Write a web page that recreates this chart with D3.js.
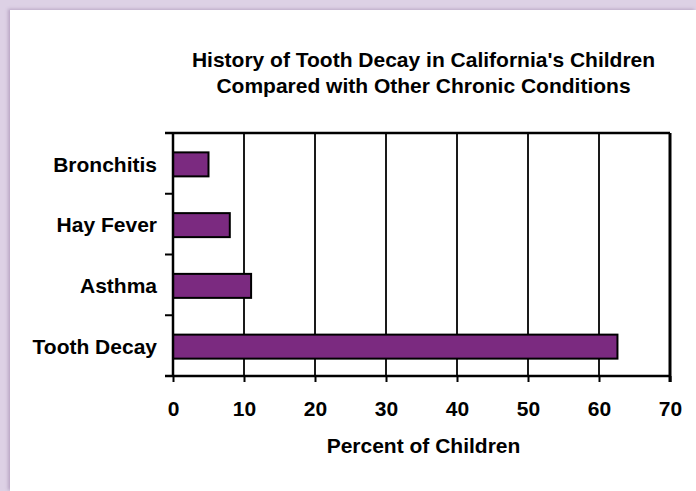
<!DOCTYPE html>
<html>
<head>
<meta charset="utf-8">
<script src="https://cdn.jsdelivr.net/npm/d3@7"></script>
<style>
body { margin: 0; background: #ddd1e5; }
#chart { position: absolute; left: 10px; top: 10px; width: 686px; height: 481px; background: #fff; box-shadow: -2px -1px 3px rgba(120,90,140,0.35); }
</style>
</head>
<body>
<div id="chart"></div>
<script>
// data
var categories = ["Bronchitis", "Hay Fever", "Asthma", "Tooth Decay"];
var values = [5, 8, 11, 62.6];
var xTicks = [0, 10, 20, 30, 40, 50, 60, 70];
var titleLines = ["History of Tooth Decay in California's Children", "Compared with Other Chronic Conditions"];
var xTitle = "Percent of Children";

var font = "'Liberation Sans', Arial, sans-serif";
var fs = "21px";

// dimensions (page coords minus the 10px frame offset)
var margin = {top: 123, right: 26, bottom: 115, left: 163},
width = 686 - margin.left - margin.right,
height = 481 - margin.top - margin.bottom;

var svg = d3.select("#chart")
.append("svg")
.attr("width", 686)
.attr("height", 481);

var g = svg.append("g")
.attr("transform", "translate(" + margin.left + "," + margin.top + ")");

var x = d3.scaleLinear()
.domain([0, 70])
.range([0, width]);

var y = d3.scaleBand()
.domain(categories)
.range([0, height]);

// vertical gridlines
g.append("g")
.selectAll("line")
.data(xTicks.slice(1, -1))
.enter()
.append("line")
.attr("x1", function (d) { return x(d); })
.attr("x2", function (d) { return x(d); })
.attr("y1", 0)
.attr("y2", height)
.attr("stroke", "#1a1a1a")
.attr("stroke-width", 2);

// plot border top + right
g.append("line")
.attr("x1", -8).attr("x2", width)
.attr("y1", 0).attr("y2", 0)
.attr("stroke", "#000").attr("stroke-width", 2.5);
g.append("line")
.attr("x1", width).attr("x2", width)
.attr("y1", 0).attr("y2", height + 6)
.attr("stroke", "#000").attr("stroke-width", 3);

// bars
var barH = 24;
g.append("g")
.selectAll("rect")
.data(categories)
.enter()
.append("rect")
.attr("x", x(0))
.attr("y", function (d) { return y(d) + y.bandwidth() / 2 - barH / 2 + 1; })
.attr("width", function (d, i) { return x(values[i]) - x(0); })
.attr("height", barH)
.attr("fill", "#7b2a80")
.attr("stroke", "#000")
.attr("stroke-width", 2);

// x axis
var xAxis = g.append("g")
.attr("transform", "translate(0," + height + ")")
.call(d3.axisBottom(x).tickValues(xTicks).tickSize(6).tickPadding(19));
xAxis.select(".domain").attr("d", "M-8,0H" + width).attr("stroke-width", 2.5);
xAxis.selectAll(".tick line").attr("stroke-width", 2);
xAxis.selectAll("text")
.style("font-family", font)
.style("font-size", fs)
.style("font-weight", "bold")
.attr("fill", "#000");

// y axis: ticks between categories
var yAxis = g.append("g");
yAxis.append("line")
.attr("x1", 0).attr("x2", 0)
.attr("y1", 0).attr("y2", height)
.attr("stroke", "#000").attr("stroke-width", 2.5);
yAxis.selectAll(".sep")
.data(categories.slice(1))
.enter()
.append("line")
.attr("x1", -8).attr("x2", 0)
.attr("y1", function (d) { return y(d); })
.attr("y2", function (d) { return y(d); })
.attr("stroke", "#000").attr("stroke-width", 2);
yAxis.selectAll("text")
.data(categories)
.enter()
.append("text")
.attr("x", -16)
.attr("y", function (d) { return y(d) + y.bandwidth() / 2 + 1; })
.attr("dy", "0.35em")
.attr("text-anchor", "end")
.style("font-family", font)
.style("font-size", fs)
.style("font-weight", "bold")
.text(function (d) { return d; });

// title
svg.append("g")
.selectAll("text")
.data(titleLines)
.enter()
.append("text")
.attr("x", margin.left + width / 2 + 2)
.attr("y", function (d, i) { return 50 + i * 26; })
.attr("dy", "0.35em")
.attr("text-anchor", "middle")
.style("font-family", font)
.style("font-size", fs)
.style("font-weight", "bold")
.text(function (d) { return d; });

// x axis title
svg.append("text")
.attr("x", margin.left + width / 2 + 2)
.attr("y", 436)
.attr("dy", "0.35em")
.attr("text-anchor", "middle")
.style("font-family", font)
.style("font-size", fs)
.style("font-weight", "bold")
.text(xTitle);
</script>
</body>
</html>
